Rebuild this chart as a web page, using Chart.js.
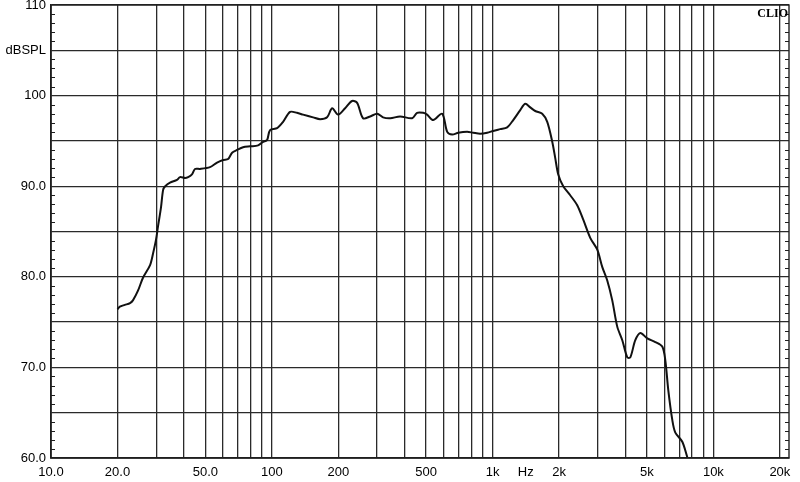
<!DOCTYPE html>
<html>
<head>
<meta charset="utf-8">
<script src="https://cdn.jsdelivr.net/npm/chart.js@4.4.0/dist/chart.umd.min.js"></script>
<style>
  html, body { margin: 0; padding: 0; background: #fff; }
  #graphe { width: 800px; height: 482px; }
</style>
</head>
<body>
<div id="graphe"><canvas id="courbe"></canvas></div>
<script>
// reponse en frequence (Hz / dBSPL)
var frequences = [20, 20.5, 21.6, 22.8, 23.5, 24.8, 26.1, 28.1, 29.0, 29.9, 30.5, 31.5, 32.2, 32.9, 34.6, 37.2, 38.4, 40.5, 41.8, 43.5, 44.9, 47.3,
  52.5, 56.5, 60.2, 63.4, 66.1, 69.6, 74.1, 79.8, 86.7, 91.3, 95.2, 98.2, 105.7, 112.5, 121, 130, 138.6, 153.9, 165.5, 178, 187.6, 199.7,
  214.8, 231, 243.5, 259, 279, 300, 319, 344, 381, 432, 455, 485, 505, 538, 591, 623, 656, 699, 767, 817, 878, 945, 1006, 1082, 1164,
  1240, 1334, 1405, 1481, 1560, 1678, 1768, 1863, 1922, 1983, 2089, 2247, 2417, 2574, 2768, 2979, 3137, 3306, 3483, 3669, 3867, 4074,
  4204, 4429, 4667, 5021, 5457, 5867, 6055, 6247, 6514, 6723, 7230, 7616];
var niveaux = [76.4, 76.7, 76.9, 77.1, 77.4, 78.5, 79.9, 81.3, 82.6, 84.1, 85.5, 87.7, 89.6, 90.0, 90.4, 90.7, 91.0, 90.9, 91.0, 91.3, 91.9, 91.9,
  92.1, 92.6, 92.9, 93.0, 93.7, 94.0, 94.3, 94.4, 94.5, 94.9, 95.1, 96.2, 96.4, 97.1, 98.2, 98.1, 97.9, 97.6, 97.4, 97.6, 98.6, 97.9,
  98.6, 99.4, 99.2, 97.5, 97.7, 98.0, 97.6, 97.5, 97.7, 97.5, 98.1, 98.1, 97.9, 97.3, 98.0, 96.0, 95.7, 95.9, 96.0, 95.9, 95.8, 95.9, 96.1, 96.3, 96.5,
  97.3, 98.4, 99.1, 98.7, 98.3, 98.0, 97.1, 94.9, 93.1, 91.3, 90.0, 89.0, 87.9, 86.3, 84.3, 83.0, 81.1, 79.6, 77.4, 74.5, 73.0, 71.1,
  71.1, 73.0, 73.8, 73.2, 72.8, 72.3, 70.8, 67.5, 64.2, 62.8, 61.8, 60.1];

// graduations de l'axe des frequences
var gradFreq = [10, 20, 30, 40, 50, 60, 70, 80, 90, 100, 200, 300, 400, 500, 600, 700, 800, 900, 1000, 1414,
  2000, 3000, 4000, 5000, 6000, 7000, 8000, 9000, 10000, 20000];
var etiqFreq = { 10: "10.0", 20: "20.0", 50: "50.0", 100: "100", 200: "200", 500: "500", 1000: "1k", 1414: "Hz",
  2000: "2k", 5000: "5k", 10000: "10k", 20000: "20k" };
var etiqNiveau = { 110: "110", 105: "dBSPL", 100: "100", 90: "90.0", 80: "80.0", 70: "70.0", 60: "60.0" };

var freqMin = 10;
var freqMax = 22000;

var points = [];
for (var i = 0; i < frequences.length; i++)
{
  points.push({ x: frequences[i], y: niveaux[i] });
}

var cadre =
{
  id: 'cadre',
  afterDraw: function (chart)
  {
    var ctx = chart.ctx;
    var a = chart.chartArea;
    var echY = chart.scales.y;
    ctx.save();
    ctx.strokeStyle = "#1e1e1e";
    ctx.lineWidth = 1.4;
    ctx.strokeRect(a.left, a.top, a.right - a.left, a.bottom - a.top);
    ctx.lineWidth = 1;
    for (var v = 61; v < 110; v++)
    {
      if (v % 5 == 0) continue;
      var py = Math.round(echY.getPixelForValue(v)) + 0.5;
      ctx.beginPath();
      ctx.moveTo(a.left, py);
      ctx.lineTo(a.left + 4, py);
      ctx.moveTo(a.right - 4, py);
      ctx.lineTo(a.right, py);
      ctx.stroke();
    }
    ctx.fillStyle = "#000";
    ctx.font = 'bold 12px "Liberation Serif"';
    ctx.textAlign = "right";
    ctx.textBaseline = "top";
    ctx.fillText("CLIO", a.right - 1, a.top + 3);
    ctx.restore();
  }
};

Chart.defaults.font.family = '"Liberation Sans", Arial, sans-serif';
Chart.defaults.font.size = 13;
Chart.defaults.color = "#000";

new Chart(document.getElementById("courbe"),
{
  type: 'line',
  data:
  {
    datasets:
    [{
      data: points,
      borderColor: "#111",
      borderWidth: 2,
      pointRadius: 0,
      tension: 0.3,
      fill: false
    }]
  },
  options:
  {
    responsive: true,
    maintainAspectRatio: false,
    animation: false,
    layout: { padding: { top: 5, right: 11, left: 0, bottom: 0 } },
    plugins:
    {
      legend: { display: false },
      tooltip: { enabled: false }
    },
    scales:
    {
      x:
      {
        type: 'logarithmic',
        min: freqMin,
        max: freqMax,
        afterBuildTicks: function (scale)
        {
          scale.ticks = gradFreq.map(function (v) { return { value: v }; });
        },
        afterFit: function (scale)
        {
          scale.height = 24;
          scale.paddingLeft = 0;
          scale.paddingRight = 0;
        },
        ticks:
        {
          autoSkip: false,
          maxRotation: 0,
          padding: 7,
          callback: function (v) { return etiqFreq[v] || ""; }
        },
        grid:
        {
          drawTicks: false,
          lineWidth: 1.3,
          color: function (c) { return c.tick && c.tick.value == 1414 ? "rgba(0,0,0,0)" : "#2a2a2a"; }
        },
        border: { color: "#1e1e1e", width: 1.4 }
      },
      y:
      {
        min: 60,
        max: 110,
        afterBuildTicks: function (scale)
        {
          var t = [];
          for (var v = 60; v <= 110; v += 5) t.push({ value: v });
          scale.ticks = t;
        },
        afterFit: function (scale)
        {
          scale.width = 51;
          scale.paddingTop = 0;
          scale.paddingBottom = 0;
        },
        ticks:
        {
          padding: 5,
          callback: function (v) { return etiqNiveau[v] || ""; }
        },
        grid:
        {
          drawTicks: false,
          lineWidth: 1.3,
          color: "#2a2a2a"
        },
        border: { color: "#1e1e1e", width: 1.4 }
      }
    }
  },
  plugins: [cadre]
});
</script>
</body>
</html>
